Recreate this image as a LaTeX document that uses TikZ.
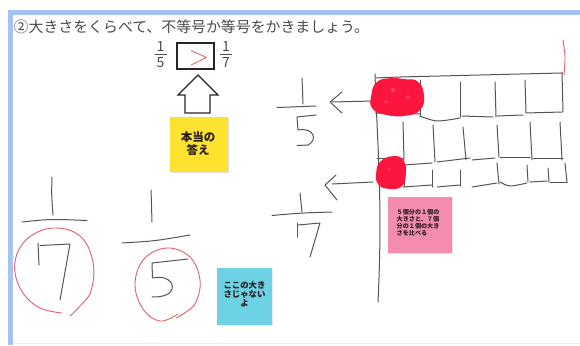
\documentclass[tikz,border=0pt]{standalone}
\usepackage{fontspec}
\newfontfamily\jp{Noto Sans CJK JP}
\definecolor{frameblue}{RGB}{164,194,244}
\definecolor{titlegray}{RGB}{75,75,75}
\definecolor{inkgray}{RGB}{85,85,85}
\definecolor{redink}{RGB}{225,95,105}
\definecolor{blobred}{RGB}{250,22,62}
\definecolor{yellowsticky}{RGB}{254,226,48}
\definecolor{bluesticky}{RGB}{108,210,228}
\definecolor{pinksticky}{RGB}{244,140,174}
\definecolor{stickytext}{RGB}{40,30,30}
\begin{document}
\begin{tikzpicture}[x=1pt,y=-1pt,
  pen/.style={draw=inkgray, line width=1pt, line cap=round, line join=round},
  redpen/.style={draw=redink, line width=0.9pt, line cap=round, line join=round},
  blob/.style={fill=blobred, draw=blobred, line width=1.6pt, line join=round},
  spot/.style={fill=white, opacity=0.2},
  sticky/.style={inner sep=0pt, outer sep=0pt, draw=none},
  printed/.style={inner sep=0pt, text=titlegray, font=\jp\fontsize{14}{15}\selectfont}
]
\useasboundingbox (0,0) rectangle (580,345);
\fill[white] (0,0) rectangle (580,345);
% frame
\fill[frameblue] (8,10) rectangle (580,15);
\fill[frameblue] (8,10) rectangle (13,345);
\draw[frameblue!30, line width=0.8pt] (13,343.6) -- (580,343.6);

% title
\node[anchor=west, inner sep=0pt, text=titlegray, font=\jp\fontsize{14.9}{16}\selectfont] (title) at (13.5,27) {②大きさをくらべて、不等号か等号をかきましょう。};

% printed comparison
\node[printed] (pn1) at (160.5,47) {1};
\node[printed] (pd5) at (160.5,62.5) {5};
\draw[titlegray, line width=0.7pt] (154.5,54.8) -- (166.5,54.8);
\node[printed] (pn2) at (226,47) {1};
\node[printed] (pd7) at (226,62.5) {7};
\draw[titlegray, line width=0.7pt] (220,54.8) -- (232,54.8);
\draw[black!85, line width=1.2pt] (177,43) rectangle (214,69);
\draw[redink, line width=0.8pt, line join=round] (191,50.5) -- (206.5,57.5) -- (191,65);

% outline arrow
\draw[black!85, line width=1.2pt, line join=miter] (198,75) -- (218,95) -- (210,95) -- (210,113) -- (185,113) -- (185,95) -- (178,95) -- cycle;

% yellow sticky
\fill[black!12] (171,118) rectangle (229,173);
\node[sticky, fill=yellowsticky, minimum width=58pt, minimum height=55pt] (ans) at (199,144.5) {};
\node[inner sep=0pt, align=center, text=stickytext, font=\jp\bfseries\fontsize{11.5}{13}\selectfont] (anstext) at (198,143.5) {本当の\\答え};

% blue sticky
\fill[black!10] (218,269) rectangle (273,326);
\node[sticky, fill=bluesticky, minimum width=55pt, minimum height=57pt] (notsize) at (244.5,296.5) {};
\node[inner sep=0pt, align=center, text=stickytext, font=\jp\bfseries\fontsize{8.4}{9.2}\selectfont] (notsizetext) at (244.5,294) {ここの大き\\さじゃない\\よ};

% pink sticky
\fill[black!10] (389,198) rectangle (453,254);
\node[sticky, fill=pinksticky, minimum width=64pt, minimum height=56pt] (compare) at (420,225) {};
\node[inner sep=0pt, align=left, anchor=north west, text=stickytext, font=\jp\bfseries\fontsize{6.1}{6.9}\selectfont] (comparetext) at (396.5,209.5) {５個分の１個の\\大きさと、７個\\分の１個の大き\\さを比べる};

% ---- left handwritten 1/7 ----
\draw[pen] (52,177) .. controls (51.5,195) .. (53,215);
\draw[pen] (22,222) .. controls (50,219) .. (87,220.5);
\draw[pen] (38,243) -- (39,265);
\draw[pen] (40,245.5) -- (70,244) -- (60,300);
\draw[redpen] plot[smooth, tension=0.65] coordinates {(62,313) (38,307) (20,288) (15,262) (27,239) (53,228) (80,236) (93,262) (91,291) (80,306) (70,316)};

% ---- handwritten 1/5 ----
\draw[pen] (151,190) .. controls (151.5,205) .. (152,222);
\draw[pen] (122,243) .. controls (155,241) .. (190,235);
\draw[pen] (188,259) -- (152,263) -- (152.5,278) .. controls (166,275) and (174,282) .. (172,289) .. controls (170,296) and (160,297) .. (152,297);
\draw[redpen] plot[smooth, tension=0.65] coordinates {(178,314) (160,321) (143,309) (135,284) (144,259) (167,248) (190,257) (200,280) (196,302) (186,312) (176,318)};

% ---- 1/5 near grid ----
\draw[pen] (302,78) .. controls (302.5,90) .. (303,104);
\draw[pen] (277,107.5) .. controls (296,106) .. (316,106);
\draw[pen] (316,115) -- (297,117) -- (298,130) .. controls (314,127) and (318,140) .. (308,145) -- (297,145.5);
% arrow 1
\draw[pen] (342,92) -- (330,102) -- (342,113);
\draw[pen] (332,102) -- (373,101);

% ---- 1/7 near grid ----
\draw[pen] (300,193) .. controls (301,203) .. (302,212);
\draw[pen] (272,215.5) .. controls (300,213) .. (332,212);
\draw[pen] (297,223) -- (297,237);
\draw[pen] (298,225) -- (320,223) -- (310,257);
% arrow 2
\draw[pen] (336,175) -- (325,185) -- (337,200);
\draw[pen] (332,184) -- (373,182);

% ---- grid ----
\draw[pen] (375,74) .. controls (377,140) and (383,200) .. (378,302);
\draw[pen] plot[smooth] coordinates {(376,78) (400,77) (440,76) (480,75) (520,74) (562,73)};
\draw[pen] (562,72) -- (563,112);
\draw[pen] (420,80) -- (420,116);
\draw[pen] (460,82) -- (460,117);
\draw[pen] (495,82) -- (496,117);
\draw[pen] (525,80) -- (526,113);
\draw[pen] (375,113) -- (420,114);
\draw[pen] plot[smooth] coordinates {(420,116) (437,121) (460,118)};
\draw[pen] (462,116) -- (493,117);
\draw[pen] (497,116) -- (523,115);
\draw[pen] (526,113) -- (562,112);
% row 2
\draw[pen] (403,122) -- (404,160);
\draw[pen] (433,125) -- (435,162);
\draw[pen] (463,127) -- (466,160);
\draw[pen] (497,125) -- (499,157);
\draw[pen] (530,122) -- (532,160);
\draw[pen] (560,122) -- (562,160);
\draw[pen] (377,158) -- (403,158);
\draw[pen] (404,165) -- (432,163);
\draw[pen] (437,162) -- (470,158);
\draw[pen] (472,160) -- (495,158);
\draw[pen] (500,157) -- (530,157);
\draw[pen] (533,158) -- (563,158);
% row 3
\draw[pen] (404,165) -- (404,187);
\draw[pen] (432,170) -- (432,187);
\draw[pen] (460,170) -- (460,186);
\draw[pen] (497,163) -- (499,184);
\draw[pen] (527,165) -- (528,182);
\draw[pen] (548,168) -- (549,182);
\draw[pen] (565,163) -- (567,182);
\draw[pen] (403,187) -- (432,185);
\draw[pen] (437,187) -- (460,185);
\draw[pen] (472,187) -- (497,183);
\draw[pen] plot[smooth] coordinates {(500,182) (510,186) (527,183)};
\draw[pen] (530,182) -- (547,181);
\draw[pen] (550,182) -- (567,182);

% red blobs
\filldraw[blob] plot[smooth cycle, tension=0.8] coordinates {(372,96) (377,83) (390,79) (405,80) (417,82) (423,94) (420,109) (405,115) (386,114) (373,108)};
\fill[spot] (393,90) circle (2.2);
\fill[spot] (408,97) circle (1.8);
\fill[spot] (386,102) circle (1.6);
\filldraw[blob] plot[smooth cycle, tension=0.8] coordinates {(377,173) (381,162) (393,157) (403,161) (405,175) (401,186) (389,188) (379,184)};
\fill[spot] (389,169) circle (1.5);

% red mark top right
\draw[redpen] (563,40) .. controls (565.5,57) .. (564,75);
\end{tikzpicture}
\end{document}
